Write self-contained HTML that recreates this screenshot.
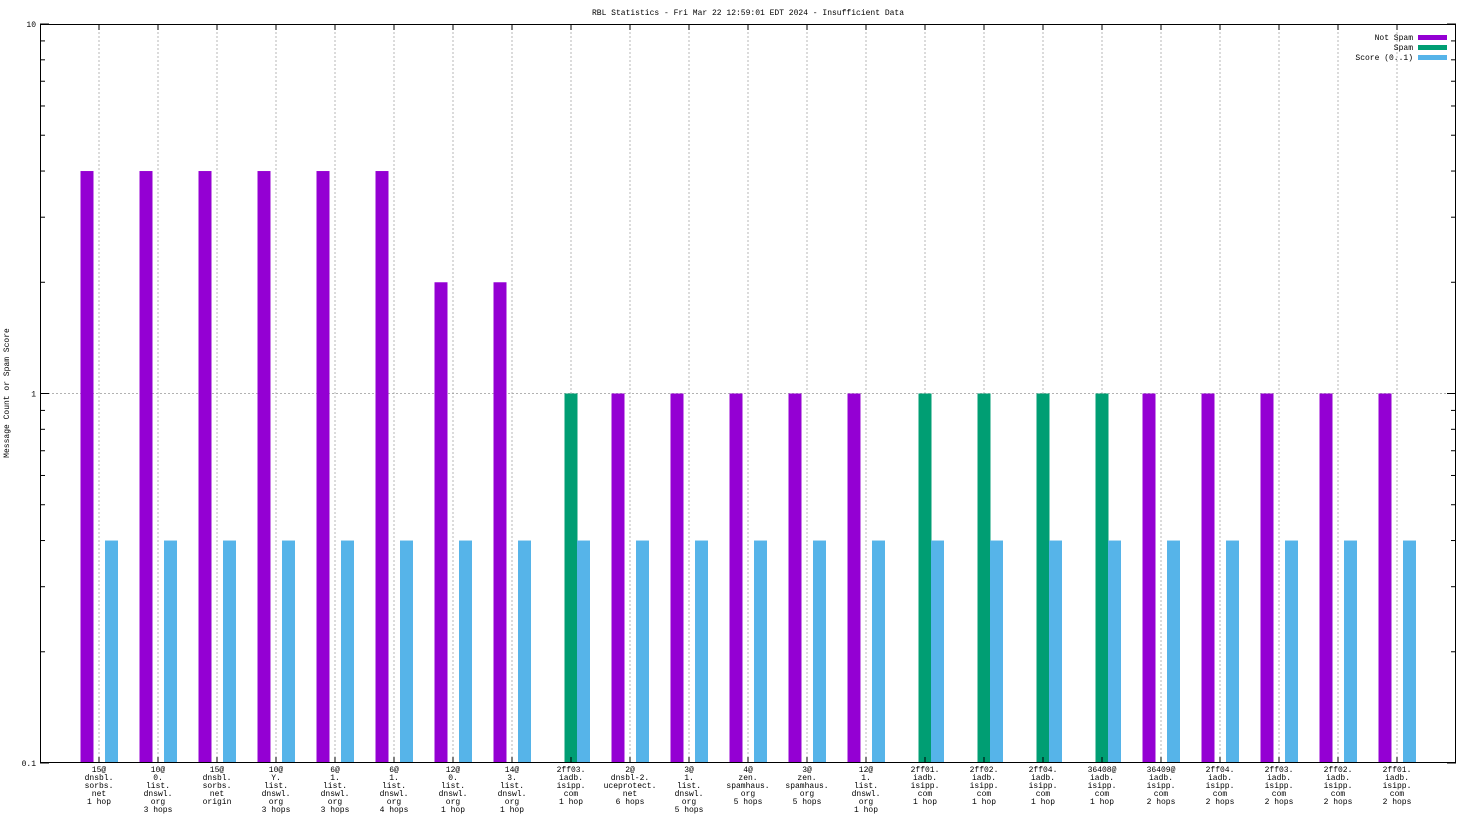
<!DOCTYPE html>
<html><head><meta charset="utf-8"><style>
body{margin:0;background:#fff}
text{font-family:"Liberation Mono",monospace;font-size:8px;fill:#000}
</style></head><body>
<svg id="c" width="1472" height="828" viewBox="0 0 1472 828">
<text x="748" y="15" text-anchor="middle">RBL Statistics - Fri Mar 22 12:59:01 EDT 2024 - Insufficient Data</text>
<text transform="translate(9,393) rotate(-90)" text-anchor="middle">Message Count or Spam Score</text>
<g id="grid"></g><g id="bars"></g><g id="axes"></g>
<g>
<text x="1413" y="40" text-anchor="end">Not Spam</text>
<rect x="1418" y="35" width="29" height="5" fill="#9400d3"/>
<text x="1413" y="50" text-anchor="end">Spam</text>
<rect x="1418" y="45" width="29" height="5" fill="#009e73"/>
<text x="1413" y="60" text-anchor="end">Score (0..1)</text>
<rect x="1418" y="55" width="29" height="5" fill="#56b4e9"/>
</g>
</svg>
<script>
const categories=["15@|dnsbl.|sorbs.|net|1 hop","10@|0.|list.|dnswl.|org|3 hops","15@|dnsbl.|sorbs.|net|origin","10@|Y.|list.|dnswl.|org|3 hops","6@|1.|list.|dnswl.|org|3 hops","6@|1.|list.|dnswl.|org|4 hops","12@|0.|list.|dnswl.|org|1 hop","14@|3.|list.|dnswl.|org|1 hop","2ff03.|iadb.|isipp.|com|1 hop","2@|dnsbl-2.|uceprotect.|net|6 hops","3@|1.|list.|dnswl.|org|5 hops","4@|zen.|spamhaus.|org|5 hops","3@|zen.|spamhaus.|org|5 hops","12@|1.|list.|dnswl.|org|1 hop","2ff01.|iadb.|isipp.|com|1 hop","2ff02.|iadb.|isipp.|com|1 hop","2ff04.|iadb.|isipp.|com|1 hop","36408@|iadb.|isipp.|com|1 hop","36409@|iadb.|isipp.|com|2 hops","2ff04.|iadb.|isipp.|com|2 hops","2ff03.|iadb.|isipp.|com|2 hops","2ff02.|iadb.|isipp.|com|2 hops","2ff01.|iadb.|isipp.|com|2 hops"];
const notSpam=[4,4,4,4,4,4,2,2,0,1,1,1,1,1,0,0,0,0,1,1,1,1,1];
const spam=[0,0,0,0,0,0,0,0,1,0,0,0,0,0,1,1,1,1,0,0,0,0,0];
const score=[0.4,0.4,0.4,0.4,0.4,0.4,0.4,0.4,0.4,0.4,0.4,0.4,0.4,0.4,0.4,0.4,0.4,0.4,0.4,0.4,0.4,0.4,0.4];
const yTicks=[0.1,1,10];
const yTickLabels=["0.1","1","10"];
const L=40,R=1456,T=24,B=763;
const NS="http://www.w3.org/2000/svg";
const xs=i=>L+(R-L)/(categories.length+1)*(i+1);
const ys=v=>B-(Math.log10(v)+1)*(B-T)/2;
function mk(t,a,p){const e=document.createElementNS(NS,t);for(const k in a)e.setAttribute(k,a[k]);p.appendChild(e);return e;}
const grid=document.getElementById('grid'),bars=document.getElementById('bars'),axes=document.getElementById('axes');
categories.forEach((c,i)=>{
  const x=xs(i);
  const g=mk('line',{x1:x,x2:x,y1:T,y2:B,stroke:'#999','stroke-dasharray':'2,2','stroke-width':0.7},grid);
  
  
  mk('line',{x1:x,x2:x,y1:B,y2:B-6,stroke:'#000'},axes);
  mk('line',{x1:x,x2:x,y1:T,y2:T+6,stroke:'#000'},axes);
  const t=mk('text',{x:x,y:772,'text-anchor':'middle'},axes);
  
  
  c.split('|').forEach((s,j)=>{const ts=mk('tspan',{x:x,y:772+j*8},t);ts.textContent=s;});
  [[notSpam[i],'#9400d3',-12,'bar-not-spam'],[spam[i],'#009e73',0,'bar-spam'],[score[i],'#56b4e9',12.5,'bar-score']].forEach(([v,col,off,nm])=>{
    if(v>0){const y=ys(v);const r=mk('rect',{x:x+off-6.5,y:y,width:13,height:B-y,fill:col},bars);
      
      }
  });
});
const hg=mk('line',{x1:L,x2:R,y1:ys(1),y2:ys(1),stroke:'#999','stroke-dasharray':'2,2','stroke-width':0.7},grid);


yTicks.forEach((v,k)=>{
  const y=ys(v);
  mk('line',{x1:L,x2:L+9,y1:y,y2:y,stroke:'#000'},axes);
  mk('line',{x1:R,x2:R-9,y1:y,y2:y,stroke:'#000'},axes);
  const t=mk('text',{x:L-4,y:y+3,'text-anchor':'end'},axes);t.textContent=yTickLabels[k];
  
  
  if(k<yTicks.length-1)for(let m=2;m<10;m++){const yy=ys(v*m);
    mk('line',{x1:L,x2:L+5,y1:yy,y2:yy,stroke:'#000'},axes);
    mk('line',{x1:R,x2:R-5,y1:yy,y2:yy,stroke:'#000'},axes);}
});
const fr=mk('rect',{x:L+0.5,y:T+0.5,width:R-L-1,height:B-T-1,fill:'none',stroke:'#000'},axes);


</script>
</body></html>
